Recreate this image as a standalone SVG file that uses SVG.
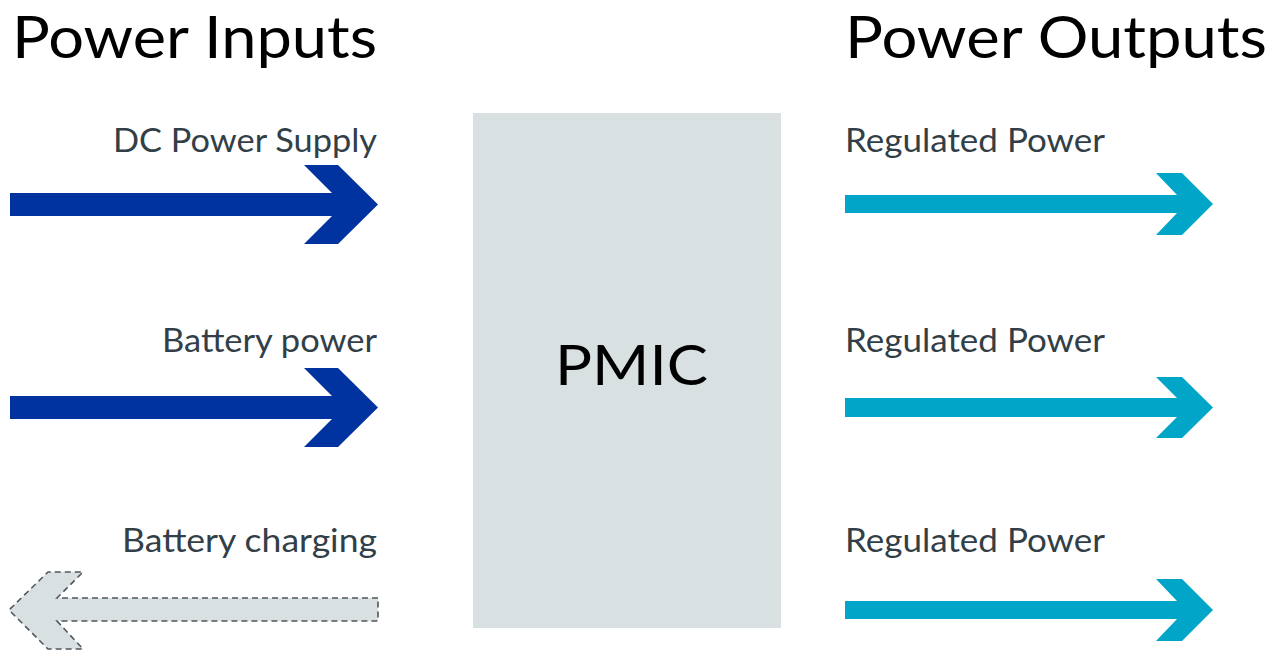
<svg xmlns="http://www.w3.org/2000/svg" width="1276" height="652" viewBox="0 0 1276 652">
<style>
.title{font-family:Lato,"Noto Sans","Liberation Sans",sans-serif;font-size:58px;fill:#000;}
.lbl{font-family:Lato,"Noto Sans","Liberation Sans",sans-serif;font-size:32px;fill:#333f48;}
.pmic{font-family:Lato,"Noto Sans","Liberation Sans",sans-serif;font-size:56px;fill:#000;}
.in{fill:#0033a0;}
.out{fill:#00a5c8;}
.chg{fill:#d9e0e2;stroke:#50565b;stroke-width:1.6;stroke-dasharray:6 4;}
</style>
<rect width="1276" height="652" fill="#fff"/>
<g id="title-inputs"><text class="title" x="12" y="57.5" textLength="365" lengthAdjust="spacingAndGlyphs">Power Inputs</text></g>
<g id="title-outputs"><text class="title" x="845" y="57.5" textLength="422" lengthAdjust="spacingAndGlyphs">Power Outputs</text></g>
<g id="pmic">
<rect x="473" y="113" width="308" height="515" fill="#d9e0e2"/>
<text class="pmic" x="555" y="385" textLength="153" lengthAdjust="spacingAndGlyphs">PMIC</text>
</g>
<g id="connectors">
<g id="in-dc">
<polygon class="in" points="10,193 332,193 304,165 338,165 378,204.5 338,244 304,244 332,216 10,216"/>
<text class="lbl" x="113" y="152" textLength="264" lengthAdjust="spacingAndGlyphs">DC Power Supply</text>
</g>
<g id="in-battery">
<polygon class="in" points="10,396 332,396 304,368 338,368 378,407.5 338,447 304,447 332,419 10,419"/>
<text class="lbl" x="162" y="352" textLength="215" lengthAdjust="spacingAndGlyphs">Battery power</text>
</g>
<g id="in-charging">
<polygon class="chg" points="378,598 57,598 83,572 48,572 9,610 48,649 83,649 57,621 378,621"/>
<text class="lbl" x="122" y="552" textLength="255" lengthAdjust="spacingAndGlyphs">Battery charging</text>
</g>
<g id="out-1">
<polygon class="out" points="845,195 1177,195 1156,173 1182,173 1213,204 1182,235 1156,235 1177,213 845,213"/>
<text class="lbl" x="845" y="152" textLength="260" lengthAdjust="spacingAndGlyphs">Regulated Power</text>
</g>
<g id="out-2">
<polygon class="out" points="845,398 1177,398 1156,377 1182,377 1213,407.5 1182,438 1156,438 1177,417 845,417"/>
<text class="lbl" x="845" y="352" textLength="260" lengthAdjust="spacingAndGlyphs">Regulated Power</text>
</g>
<g id="out-3">
<polygon class="out" points="845,601 1177,601 1156,579 1182,579 1213,610 1182,641 1156,641 1177,619 845,619"/>
<text class="lbl" x="845" y="552" textLength="260" lengthAdjust="spacingAndGlyphs">Regulated Power</text>
</g>
</g>
</svg>
